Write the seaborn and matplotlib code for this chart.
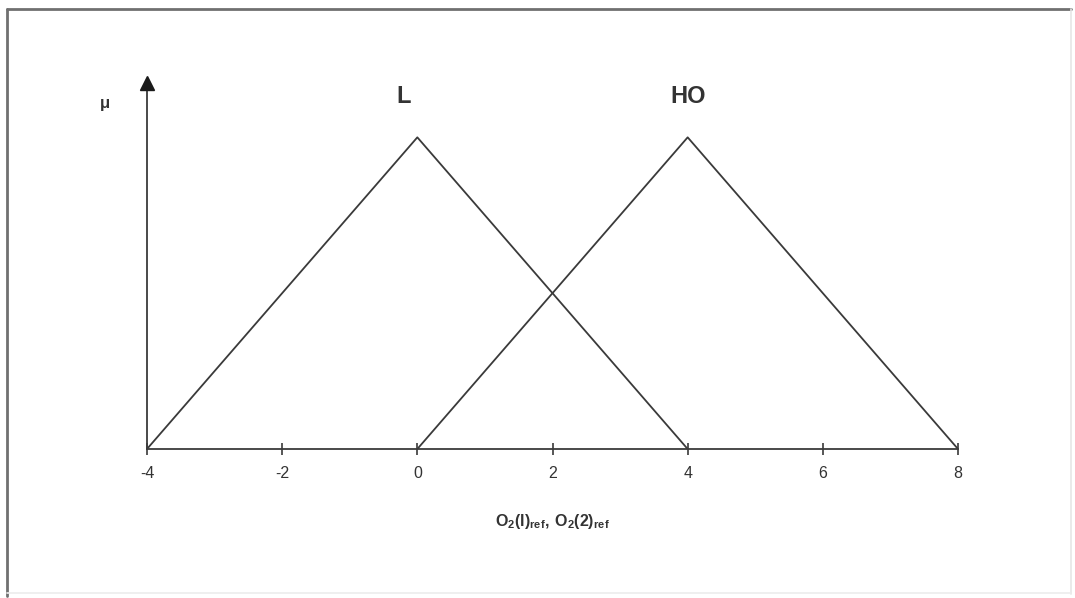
import numpy as np
import matplotlib.pyplot as plt
import matplotlib.lines as mlines
import pandas as pd
import seaborn as sns

# membership functions: triangle corners
set_names = ['L', 'HO']
l_x = [-4, 0, 4]
l_mu = [0, 1, 0]
ho_x = [0, 4, 8]
ho_mu = [0, 1, 0]
x_ticks = [-4, -2, 0, 2, 4, 6, 8]

sns.set_style('white')
plt.rcParams['font.family'] = ['Liberation Sans', 'DejaVu Sans']
plt.rcParams['mathtext.fontset'] = 'custom'
plt.rcParams['mathtext.bf'] = 'Liberation Sans:bold'
plt.rcParams['mathtext.rm'] = 'Liberation Sans'

frame = pd.DataFrame({
    'x': l_x + ho_x,
    'mu': l_mu + ho_mu,
    'set': [set_names[0]] * len(l_x) + [set_names[1]] * len(ho_x),
})

line_col = '#3a3a3a'
fig = plt.figure(figsize=(10.75, 5.98), dpi=100)
ax = fig.add_axes([147 / 1075, 149 / 598, 811 / 1075, 374 / 598])

sns.lineplot(data=frame, x='x', y='mu', hue='set', units='set',
             estimator=None, sort=False, palette=[line_col, line_col],
             linewidth=1.3, legend=False, ax=ax)

ax.set_xlim(-4, 8)
ax.set_ylim(0, 1.2)
ax.set_xticks(x_ticks)
ax.set_xticklabels([str(t) for t in x_ticks], fontsize=11.5, color='#333333')
ax.set_yticks([])
ax.tick_params(axis='x', bottom=True, direction='inout', length=9, width=1.2,
               color=line_col, pad=8)
ax.set_xlabel(r'$\mathbf{O_2(l)_{ref},\,O_2(2)_{ref}}$', fontsize=11.5,
              color='#333333', labelpad=22)
ax.set_ylabel('')

for side in ['top', 'right']:
    ax.spines[side].set_visible(False)
for side in ['left', 'bottom']:
    ax.spines[side].set_color(line_col)
    ax.spines[side].set_linewidth(1.3)
ax.spines['left'].set_bounds(0, 1.16)

# arrow head on the mu axis
ax.plot([-4], [1.175], marker='^', markersize=10, color='#1a1a1a',
        clip_on=False, zorder=5)

ax.text(-4.62, 1.11, 'μ', fontsize=12, fontweight='bold', ha='center',
        va='center', color='#333333')
for name, xs, ms in [(set_names[0], l_x, l_mu), (set_names[1], ho_x, ho_mu)]:
    peak = xs[int(np.argmax(ms))]
    ax.text(peak - (0.2 if name == 'L' else 0), 1.13, name, fontsize=17,
            fontweight='bold', ha='center', va='center', color='#333333')

# outer frame of the figure
fig.add_artist(mlines.Line2D([7 / 1075, 7 / 1075], [2 / 598, 589 / 598],
                             color='#707070', lw=2, transform=fig.transFigure))
fig.add_artist(mlines.Line2D([7 / 1075, 1071 / 1075], [589 / 598, 589 / 598],
                             color='#707070', lw=2, transform=fig.transFigure))
fig.add_artist(mlines.Line2D([1071 / 1075, 1071 / 1075], [4 / 598, 589 / 598],
                             color='#e6e6e6', lw=1.2, transform=fig.transFigure))
fig.add_artist(mlines.Line2D([7 / 1075, 1071 / 1075], [5 / 598, 5 / 598],
                             color='#ececec', lw=1.2, transform=fig.transFigure))

plt.savefig('out.png', dpi=100)
